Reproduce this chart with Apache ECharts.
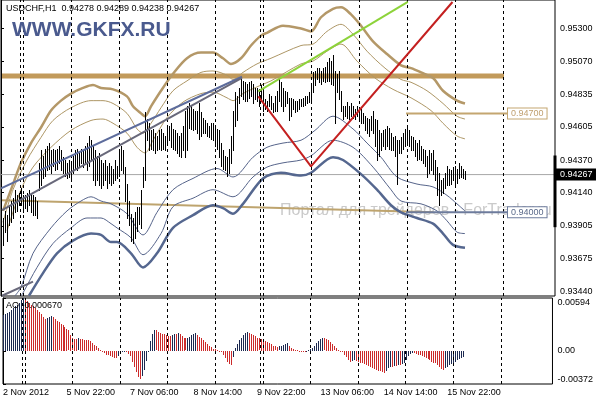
<!DOCTYPE html>
<html><head><meta charset="utf-8">
<script src="https://cdn.jsdelivr.net/npm/echarts@6/dist/echarts.min.js"></script>
<style>html,body{margin:0;padding:0;background:#fff}#c{width:596px;height:400px}</style>
</head><body><div id="c"></div>
<script>
// ---------- DATA ----------
const TITLE = 'USDCHF,H1  0.94278 0.94289 0.94238 0.94267';
const AO_TITLE = 'AO -0.000670';
const HIGH = [0.9399,0.9396,0.9401,0.9398,0.9405,0.9408,0.9410,0.9416,0.9412,0.9414,
0.9417,0.9412,0.9412,0.9414,0.9416,0.9413,0.9412,0.9411,0.9408,0.9435,
0.9444,0.9440,0.9445,0.9447,0.9449,0.9444,0.9445,0.9444,0.9445,0.9447,
0.9444,0.9439,0.9437,0.9435,0.9437,0.9435,0.9440,0.9444,0.9445,0.9442,
0.9445,0.9444,0.9447,0.9449,0.9454,0.9451,0.9447,0.9444,0.9440,0.9442,
0.9437,0.9435,0.9437,0.9433,0.9435,0.9433,0.9431,0.9437,0.9433,0.9445,
0.9447,0.9444,0.9432,0.9420,0.9408,0.9399,0.9396,0.9400,0.9404,0.9404,
0.9416,0.9432,0.9471,0.9466,0.9463,0.9458,0.9459,0.9456,0.9454,0.9458,
0.9459,0.9456,0.9454,0.9460,0.9461,0.9463,0.9459,0.9458,0.9456,0.9454,
0.9456,0.9461,0.9472,0.9475,0.9477,0.9475,0.9473,0.9472,0.9472,0.9477,
0.9471,0.9467,0.9465,0.9463,0.9461,0.9463,0.9463,0.9460,0.9459,0.9458,
0.9449,0.9444,0.9440,0.9439,0.9445,0.9454,0.9472,0.9485,0.9482,0.9488,
0.9495,0.9493,0.9492,0.9491,0.9492,0.9493,0.9491,0.9488,0.9488,0.9487,
0.9490,0.9486,0.9480,0.9479,0.9484,0.9482,0.9477,0.9482,0.9486,0.9494,
0.9492,0.9488,0.9486,0.9485,0.9481,0.9481,0.9480,0.9479,0.9479,0.9480,
0.9480,0.9481,0.9482,0.9482,0.9485,0.9491,0.9499,0.9500,0.9502,0.9502,
0.9500,0.9502,0.9503,0.9506,0.9509,0.9507,0.9511,0.9500,0.9498,0.9500,
0.9486,0.9475,0.9475,0.9478,0.9475,0.9477,0.9475,0.9473,0.9475,0.9472,
0.9473,0.9470,0.9468,0.9467,0.9466,0.9468,0.9472,0.9466,0.9465,0.9458,
0.9456,0.9458,0.9459,0.9461,0.9460,0.9456,0.9453,0.9454,0.9451,0.9451,
0.9453,0.9456,0.9459,0.9461,0.9458,0.9454,0.9453,0.9451,0.9449,0.9451,
0.9447,0.9445,0.9444,0.9440,0.9444,0.9442,0.9444,0.9437,0.9432,0.9428,
0.9423,0.9424,0.9428,0.9433,0.9431,0.9430,0.9432,0.9433,0.9431,0.9435,
0.9433,0.9431,0.94289];
const LOW = [0.9361,0.9377,0.9386,0.9380,0.9391,0.9393,0.9396,0.9400,0.9401,0.9405,
0.9405,0.9400,0.9403,0.9401,0.9405,0.9400,0.9398,0.9398,0.9396,0.9416,
0.9419,0.9424,0.9426,0.9430,0.9431,0.9428,0.9433,0.9430,0.9431,0.9435,
0.9430,0.9428,0.9426,0.9424,0.9425,0.9423,0.9428,0.9431,0.9430,0.9433,
0.9435,0.9432,0.9435,0.9430,0.9433,0.9437,0.9423,0.9419,0.9423,0.9419,
0.9417,0.9419,0.9423,0.9417,0.9421,0.9419,0.9421,0.9423,0.9424,0.9426,
0.9430,0.9428,0.9408,0.9396,0.9391,0.9380,0.9378,0.9382,0.9387,0.9392,
0.9389,0.9418,0.9423,0.9451,0.9444,0.9445,0.9444,0.9442,0.9444,0.9445,
0.9444,0.9445,0.9444,0.9449,0.9451,0.9446,0.9445,0.9444,0.9442,0.9440,
0.9439,0.9444,0.9439,0.9444,0.9460,0.9459,0.9458,0.9459,0.9456,0.9452,
0.9454,0.9456,0.9456,0.9454,0.9453,0.9452,0.9451,0.9447,0.9445,0.9439,
0.9433,0.9431,0.9430,0.9426,0.9428,0.9435,0.9444,0.9461,0.9465,0.9477,
0.9482,0.9480,0.9479,0.9479,0.9481,0.9482,0.9477,0.9480,0.9479,0.9475,
0.9479,0.9472,0.9473,0.9472,0.9475,0.9473,0.9471,0.9472,0.9472,0.9479,
0.9475,0.9472,0.9475,0.9477,0.9465,0.9468,0.9473,0.9471,0.9472,0.9473,
0.9475,0.9475,0.9476,0.9477,0.9478,0.9479,0.9485,0.9490,0.9494,0.9492,
0.9491,0.9493,0.9492,0.9493,0.9493,0.9491,0.9490,0.9463,0.9485,0.9480,
0.9472,0.9466,0.9468,0.9467,0.9466,0.9468,0.9467,0.9466,0.9468,0.9465,
0.9463,0.9463,0.9458,0.9456,0.9454,0.9458,0.9456,0.9447,0.9437,0.9440,
0.9444,0.9447,0.9445,0.9447,0.9445,0.9444,0.9444,0.9440,0.9420,0.9442,
0.9442,0.9445,0.9447,0.9449,0.9447,0.9444,0.9444,0.9440,0.9437,0.9438,
0.9437,0.9435,0.9433,0.9425,0.9428,0.9430,0.9427,0.9423,0.9412,0.9405,
0.9412,0.9414,0.9417,0.9419,0.9419,0.9420,0.9423,0.9419,0.9421,0.9424,
0.9425,0.9424,0.94238];
const AO = [0.0040,0.0041,0.0043,0.0044,0.0046,0.0048,0.0050,0.0052,0.0054,0.0057,
0.0059,0.0058,0.0056,0.0054,0.0052,0.0050,0.0048,0.0046,0.0044,0.0041,
0.0038,0.0036,0.0037,0.0038,0.0039,0.0038,0.0036,0.0034,0.0032,0.0030,
0.0029,0.0027,0.0025,0.0023,0.0018,0.0014,0.0013,0.0013,0.0014,0.0013,
0.0013,0.0012,0.0012,0.0012,0.0011,0.0009,0.0007,0.0005,0.0003,0.0001,
-0.0001,-0.0002,-0.0004,-0.0005,-0.0006,-0.0007,-0.0008,-0.0008,-0.0006,-0.0003,
-0.0001,0.0000,-0.0001,-0.0003,-0.0006,-0.0012,-0.0018,-0.0024,-0.0029,-0.0031,
-0.0028,-0.0021,-0.0011,0.0000,0.0011,0.0019,0.0024,0.0023,0.0021,0.0020,
0.0019,0.0019,0.0018,0.0017,0.0017,0.0018,0.0019,0.0019,0.0020,0.0019,
0.0017,0.0015,0.0014,0.0015,0.0016,0.0018,0.0019,0.0020,0.0018,0.0016,
0.0015,0.0012,0.0010,0.0008,0.0006,0.0004,0.0002,0.0002,0.0001,0.0000,
-0.0001,-0.0004,-0.0008,-0.0012,-0.0015,-0.0016,-0.0007,0.0003,0.0008,0.0012,
0.0015,0.0018,0.0020,0.0021,0.0020,0.0019,0.0018,0.0017,0.0015,0.0014,
0.0013,0.0012,0.0011,0.0010,0.0009,0.0008,0.0006,0.0005,0.0004,0.0005,
0.0006,0.0007,0.0008,0.0009,0.0006,0.0003,0.0002,0.0001,0.0001,0.0000,
0.0000,-0.0001,-0.0001,0.0000,0.0001,0.0002,0.0003,0.0006,0.0009,0.0011,
0.0013,0.0015,0.0014,0.0013,0.0012,0.0010,0.0008,0.0005,0.0003,0.0001,
0.0000,-0.0001,-0.0004,-0.0007,-0.0010,-0.0012,-0.0011,-0.0010,-0.0011,-0.0012,
-0.0013,-0.0014,-0.0015,-0.0016,-0.0017,-0.0018,-0.0019,-0.0020,-0.0021,-0.0022,
-0.0023,-0.0024,-0.0025,-0.0022,-0.0019,-0.0018,-0.0018,-0.0017,-0.0017,-0.0016,
-0.0016,-0.0015,-0.0013,-0.0010,-0.0006,-0.0003,-0.0002,-0.0002,-0.0003,-0.0004,
-0.0005,-0.0006,-0.0007,-0.0008,-0.0009,-0.0010,-0.0012,-0.0013,-0.0014,-0.0016,
-0.0018,-0.0020,-0.0021,-0.0019,-0.0018,-0.0016,-0.0015,-0.0013,-0.0012,-0.0010,
-0.0009,-0.0008,-0.00067];

const ENV_UPPER_OUTER = [[1,0.9401],[5,0.9416],[10,0.9435],[15,0.9449],[20,0.9460],[25,0.9472],[30,0.9479],[35,0.9484],[41,0.9488],[46,0.9490],[50,0.9488],[56,0.9487],[63,0.9482],[66,0.9475],[70,0.9470],[72,0.9468],[75,0.9475],[80,0.9486],[86,0.9498],[93,0.9509],[100,0.9513],[106,0.9513],[111,0.9509],[115,0.9505],[120,0.9509],[125,0.9518],[130,0.9525],[133,0.9527],[141,0.9532],[150,0.9530],[155,0.9528],[160,0.9538],[166,0.9544],[170,0.9545],[175,0.9540],[180,0.9532],[186,0.9521],[193,0.9512],[200,0.9504],[205,0.9502],[210,0.9499],[216,0.9495],[221,0.9486],[228,0.9479],[232,0.9477]];
const ENV_UPPER_MID = [[1,0.9393],[6,0.9416],[13,0.9437],[20,0.9453],[26,0.9465],[35,0.9474],[45,0.9479],[51,0.9479],[56,0.9477],[63,0.9470],[68,0.9459],[71,0.9456],[75,0.9463],[80,0.9474],[86,0.9486],[93,0.9493],[100,0.9499],[106,0.9500],[113,0.9497],[116,0.9494],[121,0.9499],[128,0.9505],[135,0.9509],[150,0.9518],[156,0.9519],[163,0.9528],[170,0.9533],[176,0.9526],[183,0.9514],[192,0.9502],[200,0.9494],[205,0.9492],[213,0.9486],[221,0.9477],[228,0.9468],[232,0.9466]];
const ENV_UPPER_INNER = [[3,0.9387],[10,0.9416],[16,0.9432],[25,0.9446],[35,0.9458],[45,0.9465],[51,0.9466],[56,0.9463],[63,0.9456],[68,0.9446],[72,0.9442],[76,0.9451],[83,0.9467],[91,0.9478],[100,0.9484],[106,0.9485],[113,0.9481],[116,0.9479],[121,0.9484],[130,0.9490],[135,0.9493],[150,0.9505],[156,0.9507],[163,0.9514],[170,0.9519],[178,0.9507],[187,0.9495],[196,0.9487],[205,0.9481],[215,0.9472],[221,0.9463],[228,0.9454],[232,0.9452]];
const ENV_LOWER_INNER = [[7,0.9341],[10,0.9347],[16,0.9371],[25,0.9389],[33,0.9401],[40,0.9408],[45,0.9411],[50,0.9408],[55,0.9406],[63,0.9399],[71,0.9384],[78,0.9400],[86,0.9416],[96,0.9424],[108,0.9431],[116,0.9425],[126,0.9439],[133,0.9446],[141,0.9449],[150,0.9451],[157,0.9458],[166,0.9468],[176,0.9459],[183,0.9449],[190,0.9439],[198,0.9425],[208,0.9420],[216,0.9418],[223,0.9412],[228,0.9406],[232,0.9401]];
const ENV_LOWER_MID = [[10,0.9341],[11,0.9343],[18,0.9361],[26,0.9378],[35,0.9389],[43,0.9396],[50,0.9396],[55,0.9392],[58,0.9389],[65,0.9382],[71,0.9370],[80,0.9385],[86,0.9404],[96,0.9410],[106,0.9416],[116,0.9411],[126,0.9425],[133,0.9432],[141,0.9435],[150,0.9437],[155,0.9440],[166,0.9451],[176,0.9446],[186,0.9432],[195,0.9416],[200,0.9408],[210,0.9406],[218,0.9401],[223,0.9394],[228,0.9386],[232,0.9385]];
const ENV_LOWER_OUTER = [[14,0.9341],[21,0.9357],[28,0.9371],[36,0.9380],[45,0.9385],[50,0.9384],[55,0.9379],[58,0.9379],[65,0.9371],[71,0.9361],[78,0.9371],[86,0.9389],[96,0.9398],[106,0.9405],[111,0.9403],[116,0.9399],[121,0.9406],[131,0.9424],[140,0.9428],[150,0.9426],[155,0.9428],[166,0.9439],[171,0.9437],[180,0.9427],[188,0.9416],[195,0.9405],[200,0.9400],[208,0.9396],[216,0.9392],[221,0.9385],[226,0.9377],[232,0.9375]];

const RESISTANCE = [[0.5,0.94964],[251.5,0.94964]];
const LEVEL_947 = [[202.5,0.94700],[253.5,0.94700]];
const LEVEL_940 = [[202.5,0.94000],[253.5,0.94000]];
const SLOPE_LINE = [[0.5,0.94085],[216,0.94000]];
const CHANNEL_UPPER = [[0,0.94170],[120.5,0.94959]];
const CHANNEL_LOWER = [[0.5,0.94015],[120.5,0.94952]];
const CHANNEL_BASE = [[0.5,0.93410],[16,0.93510]];
const GREEN_LINE = [[128.65,0.94856],[203.4,0.95488]];
const RED_LINE = [[128.65,0.94820],[155,0.94325],[225.75,0.95488]];
const LAST_PRICE = 0.94267;
const AXIS_MARK = [[277,0.94402],[277,0.93895]];

const PRICE_TICKS = [0.93440,0.93675,0.93905,0.94140,0.94370,0.94605,0.94835,0.95070,0.95300];
const AO_TICKS = [-0.00372,0,0.00594];
const AO_TICK_LABELS = ['-0.00372','0.00','0.00594'];
const TIME_TICKS = [0,32,64,96,128,160,192,224];
const TIME_LABELS = ['2 Nov 2012','5 Nov 22:00','7 Nov 06:00','8 Nov 14:00','9 Nov 22:00','13 Nov 06:00','14 Nov 14:00','15 Nov 22:00'];
const GRID_X = [11,35,59,83,107,131,155,179,203,227,251];
const SEPARATOR_X = [9.75,129.65];

// ---------- CHART ----------
const FONT = '"Liberation Sans", Arial, sans-serif';
const chart = echarts.init(document.getElementById('c'), null, {renderer:'canvas'});
const NAVY = '#1c2950', RED = '#cc2b2b';

function lineSeries(data, color, width, z, extra){
  return Object.assign({type:'line', data:data, xAxisIndex:0, yAxisIndex:0, symbol:'none',
    lineStyle:{color:color, width:width}, z:z, silent:true}, extra||{});
}
const gridLines = GRID_X.concat(SEPARATOR_X).map(v => ({xAxis:v}));
const markGrid = {silent:true, symbol:'none', label:{show:false}, animation:false,
  lineStyle:{type:[3,3], color:'#000', width:1}, data:gridLines};

const option = {
  animation:false,
  backgroundColor:'#fff',
  textStyle:{fontFamily:FONT},
  grid:[
    {left:1, top:-1, width:554, height:297, show:true, borderColor:'#000', borderWidth:1, backgroundColor:'#fff'},
    {left:1, top:298, width:554, height:86, show:true, borderColor:'#000', borderWidth:1, backgroundColor:'#fff'}
  ],
  xAxis:[
    {type:'value', gridIndex:0, min:0, max:277, axisLine:{show:false}, axisTick:{show:false}, axisLabel:{show:false}, splitLine:{show:false}},
    {type:'value', gridIndex:1, min:0, max:277, axisLine:{show:false}, axisTick:{show:false}, splitLine:{show:false},
     axisLabel:{customValues:TIME_TICKS, align:'left', margin:4, fontSize:9, color:'#000', fontFamily:FONT,
       formatter:v => TIME_LABELS[TIME_TICKS.indexOf(v)] || ''}}
  ],
  yAxis:[
    {type:'value', gridIndex:0, position:'right', min:0.934082, max:0.95502, scale:true,
     axisLine:{show:true, lineStyle:{color:'#000'}}, splitLine:{show:false},
     axisTick:{show:true, length:3, customValues:PRICE_TICKS, lineStyle:{color:'#000'}},
     axisLabel:{customValues:PRICE_TICKS, margin:5, fontSize:9, color:'#000', fontFamily:FONT, formatter:v => v.toFixed(5)}},
    {type:'value', gridIndex:1, position:'right', min:-0.00372, max:0.00594,
     axisLine:{show:true, lineStyle:{color:'#000'}}, splitLine:{show:false},
     axisTick:{show:true, length:3, customValues:AO_TICKS, lineStyle:{color:'#000'}},
     axisLabel:{customValues:AO_TICKS, margin:5, fontSize:9, color:'#000', fontFamily:FONT,
       verticalAlignMaxLabel:'top', verticalAlignMinLabel:'bottom',
       formatter:v => AO_TICK_LABELS[AO_TICKS.indexOf(v)]}}
  ],
  graphic:[
    {type:'text', left:6, top:4, z:20, style:{text:TITLE, font:'9px '+FONT, fill:'#000'}},
    {type:'text', left:12, top:20, z:20, style:{text:'WWW.GKFX.RU', font:'bold 21px '+FONT, fill:'#4a5a8e'}},
    {type:'text', left:280, top:203, z:1, style:{text:'Портал для трейдеров - ForTrader.ru', font:'16px '+FONT, fill:'rgba(150,150,150,0.5)'}},
    {type:'text', left:6, top:301, z:20, style:{text:AO_TITLE, font:'9px '+FONT, fill:'#000'}}
  ],
  series:[
    {type:'line', xAxisIndex:0, yAxisIndex:0, data:[], markLine:markGrid, z:1},
    {type:'line', xAxisIndex:1, yAxisIndex:1, data:[], markLine:markGrid, z:1},
    lineSeries(RESISTANCE, '#c29a5b', 5, 2),
    lineSeries(SLOPE_LINE, '#bea46e', 2, 2),
    lineSeries([[0,LAST_PRICE],[277,LAST_PRICE]], '#a8a8a8', 1, 2, {
      endLabel:{show:true, formatter:LAST_PRICE.toFixed(5), distance:1, backgroundColor:'#000', color:'#fff',
        padding:[2,4,1,4], fontSize:9, fontFamily:FONT}}),
    lineSeries(ENV_UPPER_OUTER, '#b49868', 2.5, 3, {smooth:0.3}),
    lineSeries(ENV_UPPER_MID, '#ae9766', 1, 3, {smooth:0.3}),
    lineSeries(ENV_UPPER_INNER, '#ae9766', 1, 3, {smooth:0.3}),
    lineSeries(ENV_LOWER_INNER, '#56648a', 1, 3, {smooth:0.3}),
    lineSeries(ENV_LOWER_MID, '#56648a', 1, 3, {smooth:0.3}),
    lineSeries(ENV_LOWER_OUTER, '#55678f', 2.5, 3, {smooth:0.3}),
    {type:'custom', xAxisIndex:0, yAxisIndex:0, z:4, silent:true,
     data:HIGH.map((h,i)=>[i,h,LOW[i]]), encode:{x:0, y:[1,2]},
     renderItem:function(params, api){
       const i = api.value(0);
       const a = api.coord([i, api.value(1)]);
       const b = api.coord([i, api.value(2)]);
       const px = Math.round(a[0]) + 0.5;
       return {type:'line', shape:{x1:px, y1:Math.round(a[1]), x2:px, y2:Math.round(b[1])+1}, style:{stroke:'#000', lineWidth:1}};
     }},
    lineSeries(LEVEL_947, '#c4a670', 2, 5, {endLabel:{show:true, formatter:'0.94700', distance:0, backgroundColor:'#fff',
      borderColor:'#c4a670', borderWidth:1, color:'#c0a070', padding:[1,3,0,3], fontSize:9, fontFamily:FONT}}),
    lineSeries(LEVEL_940, '#6d7b9c', 2, 5, {endLabel:{show:true, formatter:'0.94000', distance:0, backgroundColor:'#fff',
      borderColor:'#6d7b9c', borderWidth:1, color:'#5a6a8a', padding:[1,3,0,3], fontSize:9, fontFamily:FONT}}),
    lineSeries(CHANNEL_UPPER, '#5d6c9c', 2, 6),
    lineSeries(CHANNEL_LOWER, '#68687a', 2, 6),
    lineSeries(CHANNEL_BASE, '#68687a', 2, 6),
    lineSeries(GREEN_LINE, '#8dd33a', 2, 6),
    lineSeries(RED_LINE, '#c42020', 2, 6),
    lineSeries(AXIS_MARK, '#000', 3, 7, {clip:false}),
    {type:'custom', xAxisIndex:1, yAxisIndex:1, z:4, silent:true,
     data:AO.map((v,i)=>[i,v]), encode:{x:0, y:1},
     renderItem:function(params, api){
       const i = api.value(0), v = api.value(1);
       const p0 = api.coord([i, 0]), p1 = api.coord([i, v]);
       const prev = params.dataIndex > 0 ? AO[params.dataIndex-1] : -Infinity;
       const y0 = Math.round(Math.min(p0[1], p1[1]));
       const h = Math.max(1, Math.round(Math.abs(p1[1]-p0[1])));
       return {type:'rect', shape:{x:Math.round(p0[0]), y:y0, width:1, height:h}, style:{fill: v > prev ? NAVY : RED}};
     }}
  ]
};
chart.setOption(option);
</script>
</body></html>
